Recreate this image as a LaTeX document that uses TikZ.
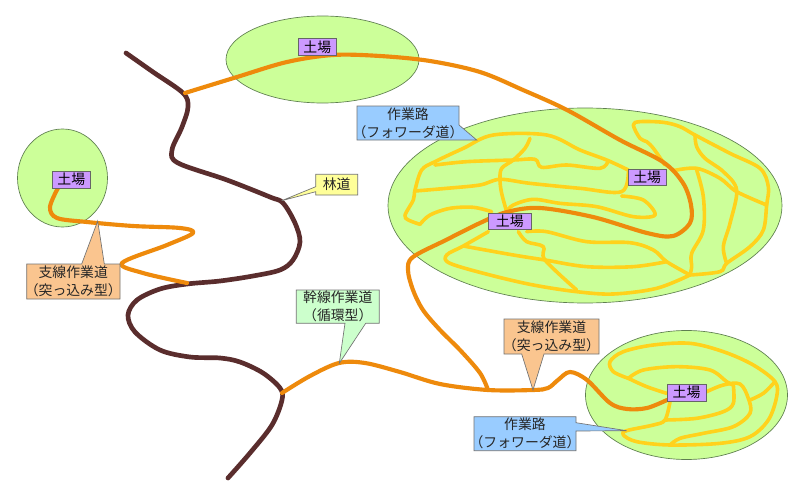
\documentclass[tikz,border=0pt]{standalone}
\usepackage{fontspec}
\setmainfont{Noto Sans CJK JP}
\definecolor{fieldgreen}{HTML}{CCFF99}
\definecolor{fieldedge}{HTML}{5F7F50}
\definecolor{forest}{HTML}{5A2D2D}
\definecolor{trunk}{HTML}{EE8A0C}
\definecolor{work}{HTML}{FFD21C}
\definecolor{bluecall}{HTML}{99CCFF}
\definecolor{peach}{HTML}{FAC58F}
\definecolor{mint}{HTML}{CCFFCC}
\definecolor{lemon}{HTML}{FFFF99}
\definecolor{lilac}{HTML}{CC99FF}
\tikzset{
 field/.style={fill=fieldgreen,draw=fieldedge,line width=0.5pt},
 forestroad/.style={draw=forest,line width=3.5pt,line cap=round,line join=round},
 mainroad/.style={draw=trunk,line width=3.1pt,line cap=round,line join=round},
 workroad/.style={draw=work,line width=2.7pt,line cap=round,line join=round},
 callout/.style={draw=black!55,line width=0.5pt,line join=miter},
 lab/.style={font=\fontsize{10.4pt}{13.5pt}\selectfont,align=center,inner sep=0pt,text=black!85},
 yard/.style={fill=lilac,draw=black!60,line width=0.5pt,minimum width=29pt,minimum height=12.5pt,inner sep=0pt,font=\fontsize{10.4pt}{12pt}\selectfont,text=black},
 zoomone/.style={shift={(380,90)},x=0.25pt,y=-0.25pt},
 zoomtwo/.style={shift={(460,310)},x=0.25pt,y=-0.25pt},
 curve/.style={smooth,tension=0.55},
}
\begin{document}
\begin{tikzpicture}[x=0.75pt,y=-0.75pt]
\useasboundingbox (0,0) rectangle (801,496);
\fill[white] (0,0) rectangle (801,496);
% fields
\fill[field] (322.5,59.5) ellipse [x radius=96.5,y radius=43.5];
\fill[field] (62.5,178) ellipse [x radius=45,y radius=49];
\fill[field] (585,205.5) ellipse [x radius=197,y radius=97.5];
\fill[field] (686.5,395) ellipse [x radius=101,y radius=64.5];
% work roads, big field
\begin{scope}[zoomone]
\draw[workroad] plot[curve] coordinates {(120,403)(85,390)(75,375)(100,330)(105,300)(125,240)(165,215)(250,175)(340,135)(500,135)(600,180)(680,210)(745,240)};
\draw[workroad] plot[curve] coordinates {(165,225)(260,215)(400,210)(465,208)(485,232)(560,225)(660,235)(685,212)};
\draw[workroad] plot[curve] coordinates {(450,145)(435,175)(400,210)(365,235)(360,270)(365,310)(380,365)};
\draw[workroad] plot[curve] coordinates {(105,303)(200,295)(300,285)(360,268)(450,280)(600,295)(725,305)(745,240)};
\draw[workroad] plot[curve] coordinates {(725,318)(790,330)(825,375)(760,380)(650,350)(540,340)(460,328)(400,345)(380,365)};
\draw[workroad] plot[curve] coordinates {(120,403)(150,375)(210,355)(280,352)(335,365)};
\draw[workroad] plot[curve] coordinates {(855,225)(820,175)(800,155)(780,145)(760,105)(780,95)(850,97)(900,110)(945,135)(1050,190)(1140,235)(1165,290)(1160,345)(1150,420)(1110,470)(1040,520)(1020,545)(930,555)};
\draw[workroad] plot[curve] coordinates {(945,135)(950,170)(975,205)(1030,245)(1070,300)(1050,400)(1030,470)(1040,520)};
\draw[workroad] plot[curve] coordinates {(880,242)(950,235)(1020,265)(1070,305)(1160,345)};
\draw[workroad] plot[curve] coordinates {(950,240)(970,320)(970,420)(935,490)(935,530)(930,555)};
\draw[workroad] plot[curve] coordinates {(415,425)(440,455)(490,470)(495,510)(590,600)};
\draw[workroad] plot[curve] coordinates {(440,425)(500,425)(620,455)(750,458)(820,480)(860,515)(930,555)};
\draw[workroad] plot[curve] coordinates {(250,468)(400,495)(495,510)(620,530)(760,530)(860,515)};
\draw[workroad] plot[curve] coordinates {(325,425)(250,468)(200,495)(210,520)(330,555)(460,585)(590,605)(700,612)(830,595)(930,555)};
\end{scope}
% work roads, lower field
\begin{scope}[zoomtwo]
\draw[workroad] plot[curve] coordinates {(505,205)(460,185)(450,155)(490,125)(580,105)(690,100)(790,125)(880,165)(945,215)(950,260)(925,330)(870,380)(780,400)(630,405)(530,395)(490,375)(500,362)(580,345)(615,330)(630,275)};
\draw[workroad] plot[curve] coordinates {(505,205)(550,180)(650,170)(750,180)(800,215)(820,225)};
\draw[workroad] plot[curve] coordinates {(505,205)(560,230)(620,250)};
\draw[workroad] plot[curve] coordinates {(740,245)(790,225)(840,222)(865,265)(870,310)(820,350)(730,370)(660,385)(630,405)};
\draw[workroad] plot[curve] coordinates {(820,225)(820,280)(790,305)(710,325)(615,330)};
\draw[workroad] plot[curve] coordinates {(870,270)(910,250)(945,215)};
\end{scope}
% forest road
\draw[forestroad] plot[curve] coordinates {(126,53)(153,72)(183,93)(188,107)(182,127)(172,150)(178,163)(227,180)(270,197)(283,203)(295,223)(300,242)(293,260)(280,270)(253,276)(220,281)(187,284)(160,289)(137,300)(128,315)(135,332)(160,350)(190,357)(220,358)(240,362)(263,373)(280,388)(282,400)(272,425)(250,453)(228,478)};
% main roads
\draw[mainroad] plot[curve] coordinates {(185,93)(237,77)(287,62)(333,55)(380,56)(430,61)(480,72)(523,90)(567,110)(620,140)(663,162)(683,183)(691,205)(690,223)(673,236)(647,233)(593,217)(540,208)(507,212)(480,223)(446,240)(413,257)(408,270)(413,290)(423,310)(440,330)(460,350)(480,373)(488,390)};
\draw[mainroad] plot[curve] coordinates {(282,393)(310,376)(339,363)(365,363)(400,372)(440,384)(488,390)(533,390)(548,388)(558,380)(570,372)(587,380)(610,403)(627,409)(647,408)(667,400)};
\draw[mainroad] plot[curve] coordinates {(58,188)(50,207)(57,218)(87,222)(133,226)(180,228)(193,233)(167,245)(122,263)(143,273)(187,283)};
% yards
\node[yard,minimum width=29pt] (yardtop) at (317.3,47) {土場};
\node[yard] (yardleft) at (71.3,179.5) {土場};
\node[yard,minimum width=32pt] (yardmid) at (509.8,221.3) {土場};
\node[yard] (yardright) at (647.2,177.2) {土場};
\node[yard] (yardlow) at (686.5,392.5) {土場};
% callouts
\draw[callout,fill=bluecall] (357,106)--(459,106)--(459,125)--(476.7,140)--(357,140)--cycle;
\node[lab] (calla) at (408,123) {作業路\\（フォワーダ道）};
\draw[callout,fill=bluecall] (474,416.7)--(576,416.7)--(576,422.7)--(626.7,430.7)--(576,431)--(576,450.7)--(474,450.7)--cycle;
\node[lab] (callb) at (525,433.7) {作業路\\（フォワーダ道）};
\draw[callout,fill=peach] (504,319)--(599,319)--(599,354)--(544,354)--(533,390)--(521.7,354)--(504,354)--cycle;
\node[lab] (callc) at (551.5,336.5) {支線作業道\\（突っ込み型）};
\draw[callout,fill=peach] (26.7,264)--(81.7,264)--(97.7,221)--(104.3,264)--(120,264)--(120,299)--(26.7,299)--cycle;
\node[lab] (calld) at (73.3,281.5) {支線作業道\\（突っ込み型）};
\draw[callout,fill=mint] (296.3,290)--(379.3,290)--(379.3,323.3)--(365.7,323.3)--(339.3,363.3)--(345,323.3)--(296.3,323.3)--cycle;
\node[lab] (calle) at (337.8,306.7) {幹線作業道\\（循環型）};
\draw[callout,fill=lemon] (315.7,174.3)--(357.7,174.3)--(357.7,195)--(315.7,195)--(315.7,191.7)--(281.7,200.7)--(315.7,186.7)--cycle;
\node[lab] (callf) at (336.7,184.6) {林道};
\end{tikzpicture}
\end{document}
